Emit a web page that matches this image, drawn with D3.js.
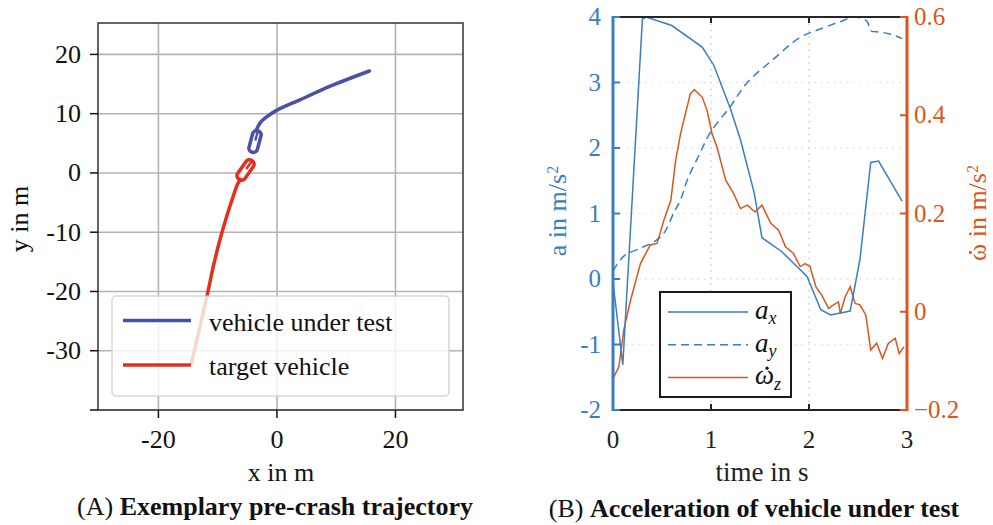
<!DOCTYPE html>
<html>
<head>
<meta charset="utf-8">
<script src="https://cdn.jsdelivr.net/npm/d3@7"></script>
<style>
body { margin: 0; background: #fff; }
text { font-family: "Liberation Serif", "Times New Roman", serif; }
</style>
</head>
<body>
<svg id="fig" width="993" height="525"></svg>
<script>

// ---- panel A: trajectories (metres)
const vutX = [-3.5, -2.8, -1.8, 0, 3.8, 9.4, 15.6]
const vutY = [7.2, 8.5, 9.4, 10.6, 12.3, 14.8, 17.2]
const tgtX = [-5.9, -6.6, -7.4, -8.5, -9.6, -10.7, -11.7, -14.5]
const tgtY = [-0.8, -1.8, -4.0, -7.4, -11.2, -15.6, -20.3, -32.4]

const carNames = ["vehicle under test", "target vehicle"]
const carX = [-3.7, -5.3]
const carY = [5.3, 0.5]
const carHeading = [15, 35]
const carLen = [3.7, 3.8]
const carWid = [1.45, 1.5]

const trajXTicks = [-20, 0, 20]
const trajYTicks = [-40, -30, -20, -10, 0, 10, 20]

// ---- panel B: accelerations over time (s)
const axTime = [0, 0.10, 0.30, 0.34, 0.60, 0.91, 1.03, 1.20, 1.30, 1.44, 1.52, 1.72, 1.98, 2.12, 2.22, 2.42, 2.52, 2.63, 2.71, 2.95]
const axVal = [-0.05, -1.31, 3.97, 4.0, 3.87, 3.54, 3.26, 2.59, 2.13, 1.32, 0.63, 0.42, 0.04, -0.47, -0.55, -0.49, 0.30, 1.78, 1.80, 1.19]

const ayTime = [0, 0.11, 0.28, 0.43, 0.52, 0.62, 0.69, 0.76, 0.89, 0.99, 1.20, 1.37, 1.64, 1.91, 2.12, 2.32, 2.46, 2.59, 2.63, 2.72, 2.83, 2.95]
const ayVal = [0.12, 0.35, 0.47, 0.58, 0.70, 1.01, 1.21, 1.52, 1.93, 2.23, 2.64, 3.0, 3.36, 3.69, 3.82, 3.93, 4.0, 3.94, 3.79, 3.77, 3.74, 3.67]

const wzTime = [0, 0.06, 0.11, 0.18, 0.28, 0.38, 0.45, 0.52, 0.59, 0.64, 0.69, 0.74, 0.79, 0.83, 0.91, 0.96, 1.01, 1.06, 1.15, 1.23, 1.30, 1.37, 1.45, 1.52, 1.61, 1.69, 1.76, 1.84, 1.91, 1.96, 2.01, 2.07, 2.13, 2.20, 2.25, 2.30, 2.32, 2.37, 2.42, 2.47, 2.52, 2.58, 2.63, 2.69, 2.75, 2.81, 2.88, 2.92, 2.97]
const wzVal = [-0.136, -0.112, -0.037, 0.024, 0.098, 0.136, 0.139, 0.187, 0.227, 0.309, 0.363, 0.404, 0.444, 0.452, 0.437, 0.41, 0.363, 0.336, 0.268, 0.241, 0.21, 0.217, 0.203, 0.217, 0.18, 0.166, 0.132, 0.119, 0.092, 0.098, 0.092, 0.051, 0.034, 0.007, 0.014, 0.02, -0.003, 0.031, 0.051, 0.017, 0.014, -0.007, -0.078, -0.064, -0.095, -0.064, -0.054, -0.085, -0.071]

const timeTicks = [0, 1, 2, 3]
const aTicks = [-2, -1, 0, 1, 2, 3, 4]
const wTicks = [-0.2, 0, 0.2, 0.4, 0.6]
const seriesLabels = [["a", "x"], ["a", "y"], ["\u03C9", "z"]]

const blueA = "#4a4fa8", redA = "#e0301e"
const blueB = "#3a7dc2", orangeB = "#d9561c"

const svg = d3.select("#fig")

// small dot accent over the first glyph of a text (the omega-dot)
function dotOver(textSel, parent, italicShift, color) {
    const node = textSel.node()
    const total = node.getComputedTextLength()
    const w = node.getSubStringLength(0, 1)
    const fs = parseFloat(textSel.style("font-size"))
    const anchor = textSel.attr("text-anchor") || "start"
    const x0 = +textSel.attr("x") || 0
    const start = anchor === "middle" ? x0 - total / 2 : x0
    parent.append("circle")
        .attr("cx", start + w / 2 + italicShift).attr("cy", (+textSel.attr("y") || 0) - fs * 0.6)
        .attr("r", fs * 0.06)
        .style("fill", color)
}

// ================= panel A =================
const x1 = d3.scaleLinear().domain([-30.2, 31.4]).range([98, 463])
const y1 = d3.scaleLinear().domain([-40, 25.3]).range([410, 23])
const pxPerM = x1(1) - x1(0)

const gA = svg.append("g")

gA.selectAll(".gx").data(trajXTicks).enter().append("line")
    .attr("x1", d => x1(d)).attr("x2", d => x1(d))
    .attr("y1", 23).attr("y2", 410)
    .style("stroke", "#b3b3b3").style("stroke-width", 1.6)
gA.selectAll(".gy").data(trajYTicks).enter().append("line")
    .attr("x1", 98).attr("x2", 463)
    .attr("y1", d => y1(d)).attr("y2", d => y1(d))
    .style("stroke", "#b3b3b3").style("stroke-width", 1.6)

gA.append("rect").attr("x", 98).attr("y", 23).attr("width", 365).attr("height", 387)
    .style("fill", "none").style("stroke", "#333").style("stroke-width", 1.5)

// ticks + labels
gA.selectAll(".ty").data(trajYTicks).enter().append("line")
    .attr("x1", 90).attr("x2", 98).attr("y1", d => y1(d)).attr("y2", d => y1(d))
    .style("stroke", "#111").style("stroke-width", 1.5)
gA.selectAll(".ly").data(trajYTicks.filter(d => d > -40)).enter().append("text")
    .attr("x", 81).attr("y", d => y1(d)).attr("dy", "0.32em")
    .attr("text-anchor", "end").style("font-size", "26px").style("fill", "#111")
    .text(d => d)
gA.selectAll(".tx").data(trajXTicks).enter().append("line")
    .attr("x1", d => x1(d)).attr("x2", d => x1(d)).attr("y1", 410).attr("y2", 418)
    .style("stroke", "#111").style("stroke-width", 1.5)
gA.selectAll(".lx").data(trajXTicks).enter().append("text")
    .attr("x", d => x1(d)).attr("y", 448)
    .attr("text-anchor", "middle").style("font-size", "26px").style("fill", "#111")
    .text(d => d)

gA.append("text").attr("x", 281).attr("y", 481).attr("text-anchor", "middle")
    .style("font-size", "26px").style("fill", "#111").text("x in m")
gA.append("text").attr("transform", "translate(28,219) rotate(-90)").attr("text-anchor", "middle")
    .style("font-size", "26px").style("fill", "#111").text("y in m")

// trajectories
const lineA = d3.line().x(d => x1(d[0])).y(d => y1(d[1])).curve(d3.curveCatmullRom)
gA.append("path").datum(d3.zip(vutX, vutY)).attr("d", lineA)
    .style("fill", "none").style("stroke", blueA).style("stroke-width", 3.5).style("stroke-linecap", "round")
gA.append("path").datum(d3.zip(tgtX, tgtY)).attr("d", lineA)
    .style("fill", "none").style("stroke", redA).style("stroke-width", 3.5)

// cars
const carColors = [blueA, redA]
carX.forEach((cx, i) => {
    const L = carLen[i] * pxPerM, W = carWid[i] * pxPerM
    const g = gA.append("g")
        .attr("transform", `translate(${x1(cx)},${y1(carY[i])}) rotate(${carHeading[i]})`)
    g.append("rect").attr("x", -W / 2).attr("y", -L / 2).attr("width", W).attr("height", L)
        .attr("rx", W * 0.45)
        .style("fill", "#fff").style("fill-opacity", 0.6)
        .style("stroke", carColors[i]).style("stroke-width", 3.5)
    g.append("line").attr("x1", 0).attr("x2", 0).attr("y1", -L / 2).attr("y2", -L * 0.05)
        .style("stroke", carColors[i]).style("stroke-width", 2.4)
})

// legend A
const legA = gA.append("g")
legA.append("rect").attr("x", 112).attr("y", 296).attr("width", 337).attr("height", 100).attr("rx", 4)
    .style("fill", "#fff").style("fill-opacity", 0.8).style("stroke", "#ccc").style("stroke-opacity", 0.8).style("stroke-width", 1.5)
carNames.forEach((name, i) => {
    const yy = 320.5 + i * 44.5
    legA.append("line").attr("x1", 123).attr("x2", 191).attr("y1", yy).attr("y2", yy)
        .style("stroke", carColors[i]).style("stroke-width", 3.5)
    legA.append("text").attr("x", 209).attr("y", yy + 10).style("font-size", "26px").style("fill", "#111").text(name)
})

// ================= panel B =================
const x2 = d3.scaleLinear().domain([0, 3]).range([613, 907])
const yA = d3.scaleLinear().domain([-2, 4]).range([410, 17])
const yW = d3.scaleLinear().domain([-0.2, 0.6]).range([410, 17])

const gB = svg.append("g")

gB.selectAll(".gbx").data([1, 2]).enter().append("line")
    .attr("x1", d => x2(d)).attr("x2", d => x2(d)).attr("y1", 17).attr("y2", 410)
    .style("stroke", "#cfcfcf").style("stroke-width", 1.5).style("stroke-dasharray", "1.5,5")
gB.selectAll(".gby").data(aTicks.slice(1, -1)).enter().append("line")
    .attr("x1", 613).attr("x2", 907).attr("y1", d => yA(d)).attr("y2", d => yA(d))
    .style("stroke", "#d3e2f2").style("stroke-width", 1.5).style("stroke-dasharray", "1.5,5")

// series
const lineB = (ys) => d3.line().x(d => x2(d[0])).y(d => ys(d[1]))
gB.append("path").datum(d3.zip(wzTime, wzVal)).attr("d", lineB(yW))
    .style("fill", "none").style("stroke", orangeB).style("stroke-width", 1.5)
gB.append("path").datum(d3.zip(ayTime, ayVal)).attr("d", lineB(yA).curve(d3.curveCatmullRom))
    .style("fill", "none").style("stroke", blueB).style("stroke-width", 1.5).style("stroke-dasharray", "8,5")
gB.append("path").datum(d3.zip(axTime, axVal)).attr("d", lineB(yA))
    .style("fill", "none").style("stroke", blueB).style("stroke-width", 1.5)

// box
gB.append("line").attr("x1", 613).attr("x2", 907).attr("y1", 17).attr("y2", 17).style("stroke", "#262626").style("stroke-width", 2)
gB.append("line").attr("x1", 613).attr("x2", 907).attr("y1", 410).attr("y2", 410).style("stroke", "#262626").style("stroke-width", 2)
gB.append("line").attr("x1", 613).attr("x2", 613).attr("y1", 16).attr("y2", 411).style("stroke", blueB).style("stroke-width", 3)
gB.append("line").attr("x1", 907).attr("x2", 907).attr("y1", 16).attr("y2", 411).style("stroke", orangeB).style("stroke-width", 3)

// ticks
gB.selectAll(".tbt").data([1, 2]).enter().append("line")
    .attr("x1", d => x2(d)).attr("x2", d => x2(d)).attr("y1", 17).attr("y2", 23)
    .style("stroke", "#262626").style("stroke-width", 2)
gB.selectAll(".tbb").data([1, 2]).enter().append("line")
    .attr("x1", d => x2(d)).attr("x2", d => x2(d)).attr("y1", 404).attr("y2", 410)
    .style("stroke", "#262626").style("stroke-width", 2)
gB.selectAll(".tba").data(aTicks).enter().append("line")
    .attr("x1", 613).attr("x2", 620).attr("y1", d => yA(d)).attr("y2", d => yA(d))
    .style("stroke", blueB).style("stroke-width", 2)
gB.selectAll(".tbw").data(wTicks).enter().append("line")
    .attr("x1", 900).attr("x2", 907).attr("y1", d => yW(d)).attr("y2", d => yW(d))
    .style("stroke", orangeB).style("stroke-width", 2)

gB.selectAll(".lba").data(aTicks).enter().append("text")
    .attr("x", 601).attr("y", d => yA(d)).attr("dy", "0.32em").attr("text-anchor", "end")
    .style("font-size", "25px").style("fill", blueB).text(d => d)
gB.selectAll(".lbw").data(wTicks).enter().append("text")
    .attr("x", 914).attr("y", d => yW(d)).attr("dy", "0.32em")
    .style("font-size", "25px").style("fill", orangeB).text(d => d3.format(".1f")(d).replace("0.0", "0"))
gB.selectAll(".lbt").data(timeTicks).enter().append("text")
    .attr("x", d => x2(d)).attr("y", 448).attr("text-anchor", "middle")
    .style("font-size", "25px").style("fill", "#222").text(d => d)

gB.append("text").attr("x", 762).attr("y", 481).attr("text-anchor", "middle")
    .style("font-size", "27px").style("fill", "#222").text("time in s")

const labA = gB.append("text").attr("transform", "translate(566,211) rotate(-90)").attr("text-anchor", "middle")
    .style("font-size", "26px").style("fill", blueB)
labA.append("tspan").text("a in m/s")
labA.append("tspan").attr("dy", "-0.5em").style("font-size", "16px").text("2")

const gW = gB.append("g").attr("transform", "translate(986,213) rotate(-90)")
const labW = gW.append("text").attr("x", 0).attr("y", 0).attr("text-anchor", "middle")
    .style("font-size", "26px").style("fill", orangeB)
labW.append("tspan").text("\u03C9 in m/s")
labW.append("tspan").attr("dy", "-0.5em").style("font-size", "16px").text("2")
dotOver(labW, gW, 0, orangeB)

// legend B
const legB = gB.append("g")
legB.append("rect").attr("x", 660).attr("y", 292).attr("width", 131).attr("height", 105)
    .style("fill", "#fff").style("stroke", "#1a1a1a").style("stroke-width", 2)
const legColors = [blueB, blueB, orangeB]
const legDash = [null, "8,5", null]
seriesLabels.forEach((lab, i) => {
    const yy = 312 + i * 32.7
    legB.append("line").attr("x1", 668).attr("x2", 748).attr("y1", yy).attr("y2", yy)
        .style("stroke", legColors[i]).style("stroke-width", 1.5).style("stroke-dasharray", legDash[i])
    const t = legB.append("text").attr("x", 755).attr("y", yy + 7)
        .style("font-size", "27px").style("font-style", "italic").style("fill", "#111")
    t.append("tspan").text(lab[0])
    t.append("tspan").attr("dy", "0.3em").style("font-size", "18px").text(lab[1])
    if (i === 2) dotOver(t, legB, 2.5, "#111")
})

// ================= captions =================
const capA = svg.append("text").attr("x", 275).attr("y", 515).attr("text-anchor", "middle")
    .style("font-size", "26px").style("fill", "#111")
capA.append("tspan").text("(A) ")
capA.append("tspan").style("font-weight", "bold").text("Exemplary pre-crash trajectory")
const capB = svg.append("text").attr("x", 754).attr("y", 517).attr("text-anchor", "middle")
    .style("font-size", "26px").style("fill", "#111")
capB.append("tspan").text("(B) ")
capB.append("tspan").style("font-weight", "bold").text("Acceleration of vehicle under test")

</script>
</body>
</html>
